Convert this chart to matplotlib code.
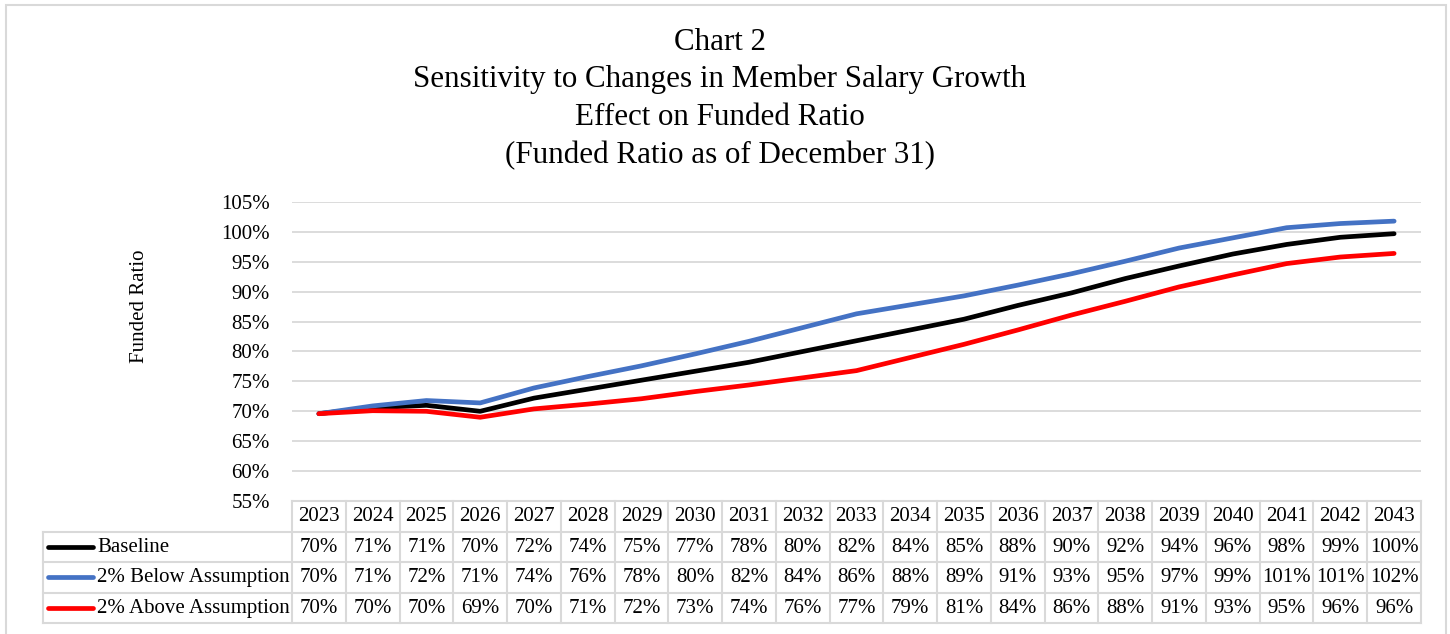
import matplotlib.pyplot as plt
from matplotlib.patches import Rectangle

# data (funded ratio, %)
years = list(range(2023, 2044))
baseline = [69.6, 70.6, 71.0, 70.0, 72.2, 73.7, 75.2, 76.7, 78.2, 80.0, 81.8,
            83.6, 85.4, 87.7, 89.8, 92.2, 94.3, 96.3, 97.9, 99.1, 99.7]
below = [69.6, 70.9, 71.8, 71.4, 73.9, 75.8, 77.6, 79.6, 81.7, 84.0, 86.3,
         87.8, 89.3, 91.1, 93.0, 95.1, 97.3, 99.0, 100.7, 101.4, 101.8]
above = [69.6, 70.1, 70.0, 69.0, 70.4, 71.2, 72.1, 73.3, 74.4, 75.6, 76.8,
         79.0, 81.2, 83.6, 86.1, 88.4, 90.8, 92.8, 94.7, 95.8, 96.4]

series_names = ["Baseline", "2% Below Assumption", "2% Above Assumption"]
series_vals = [baseline, below, above]
colors = ["black", "#4472C4", "#FF0000"]

title_lines = ["Chart 2",
               "Sensitivity to Changes in Member Salary Growth",
               "Effect on Funded Ratio",
               "(Funded Ratio as of December 31)"]
yticks = list(range(55, 106, 5))

plt.rcParams["font.family"] = ["Liberation Serif", "DejaVu Serif"]
plt.rcParams["font.size"] = 15

W, H = 1450, 634
fig = plt.figure(figsize=(W / 100, H / 100), dpi=100)

def px(x0, y0, x1, y1):
    # pixel box (top-left origin) -> figure fraction
    return [x0 / W, 1 - y1 / H, (x1 - x0) / W, (y1 - y0) / H]

grid_c = "#d9d9d9"

# outer frame
fig.patches.append(Rectangle((6 / W, -0.05), 1440 / W, 1 - 5 / H + 0.05,
                             transform=fig.transFigure, fill=False,
                             edgecolor=grid_c, linewidth=1.5))

# titles
for i, t in enumerate(title_lines):
    fig.text(720 / W, 1 - (42 + 37.7 * i) / H, t, ha="center", va="center",
             fontsize=22.3)

# main plot
ax = fig.add_axes(px(292, 202, 1421, 501))
x = list(range(len(years)))
for vals, c in zip(series_vals, colors):
    ax.plot(x, vals, color=c, linewidth=3.4, solid_capstyle="round",
            solid_joinstyle="round", zorder=3)
ax.set_xlim(-0.5, len(years) - 0.5)
ax.set_ylim(55, 105)
ax.set_yticks(yticks)
ax.set_yticklabels([f"{v}%" for v in yticks])
ax.set_xticks([])
ax.tick_params(axis="y", length=0, pad=16)
for y in yticks[1:]:
    ax.axhline(y, color=grid_c, linewidth=1.3, zorder=1)
for s in ax.spines.values():
    s.set_visible(False)
fig.text(140 / W, 1 - 306 / H, "Funded Ratio", rotation=90,
         ha="center", va="center")

# data table
tb = fig.add_axes(px(292, 501, 1421, 623))
tb.set_xlim(-0.5, len(years) - 0.5)
tb.set_ylim(4, 0)
tb.axis("off")
n = len(years)
unit = (1421 - 292) / n
leg_left = -0.5 - (292 - 43) / unit
lk = dict(color=grid_c, linewidth=1.5, clip_on=False)
# horizontal lines
tb.plot([-0.5, n - 0.5], [0, 0], **lk)
for r in range(1, 5):
    tb.plot([leg_left, n - 0.5], [r, r], **lk)
# vertical lines
for c in range(n + 1):
    tb.plot([c - 0.5, c - 0.5], [0, 4], **lk)
tb.plot([leg_left, leg_left], [1, 4], **lk)

for i, yr in enumerate(years):
    tb.text(i, 0.52, str(yr), ha="center", va="center")
for r, (name, vals, c) in enumerate(zip(series_names, series_vals, colors)):
    yc = r + 1.5
    tb.plot([leg_left + 5 / unit, leg_left + 50 / unit], [yc, yc], color=c,
            linewidth=3.4, solid_capstyle="round", clip_on=False)
    tb.text(leg_left + 54 / unit, yc + 0.02, name, ha="left", va="center")
    for i, v in enumerate(vals):
        tb.text(i, yc + 0.02, f"{v:.0f}%", ha="center", va="center")

fig.savefig("out.png", dpi=100)
